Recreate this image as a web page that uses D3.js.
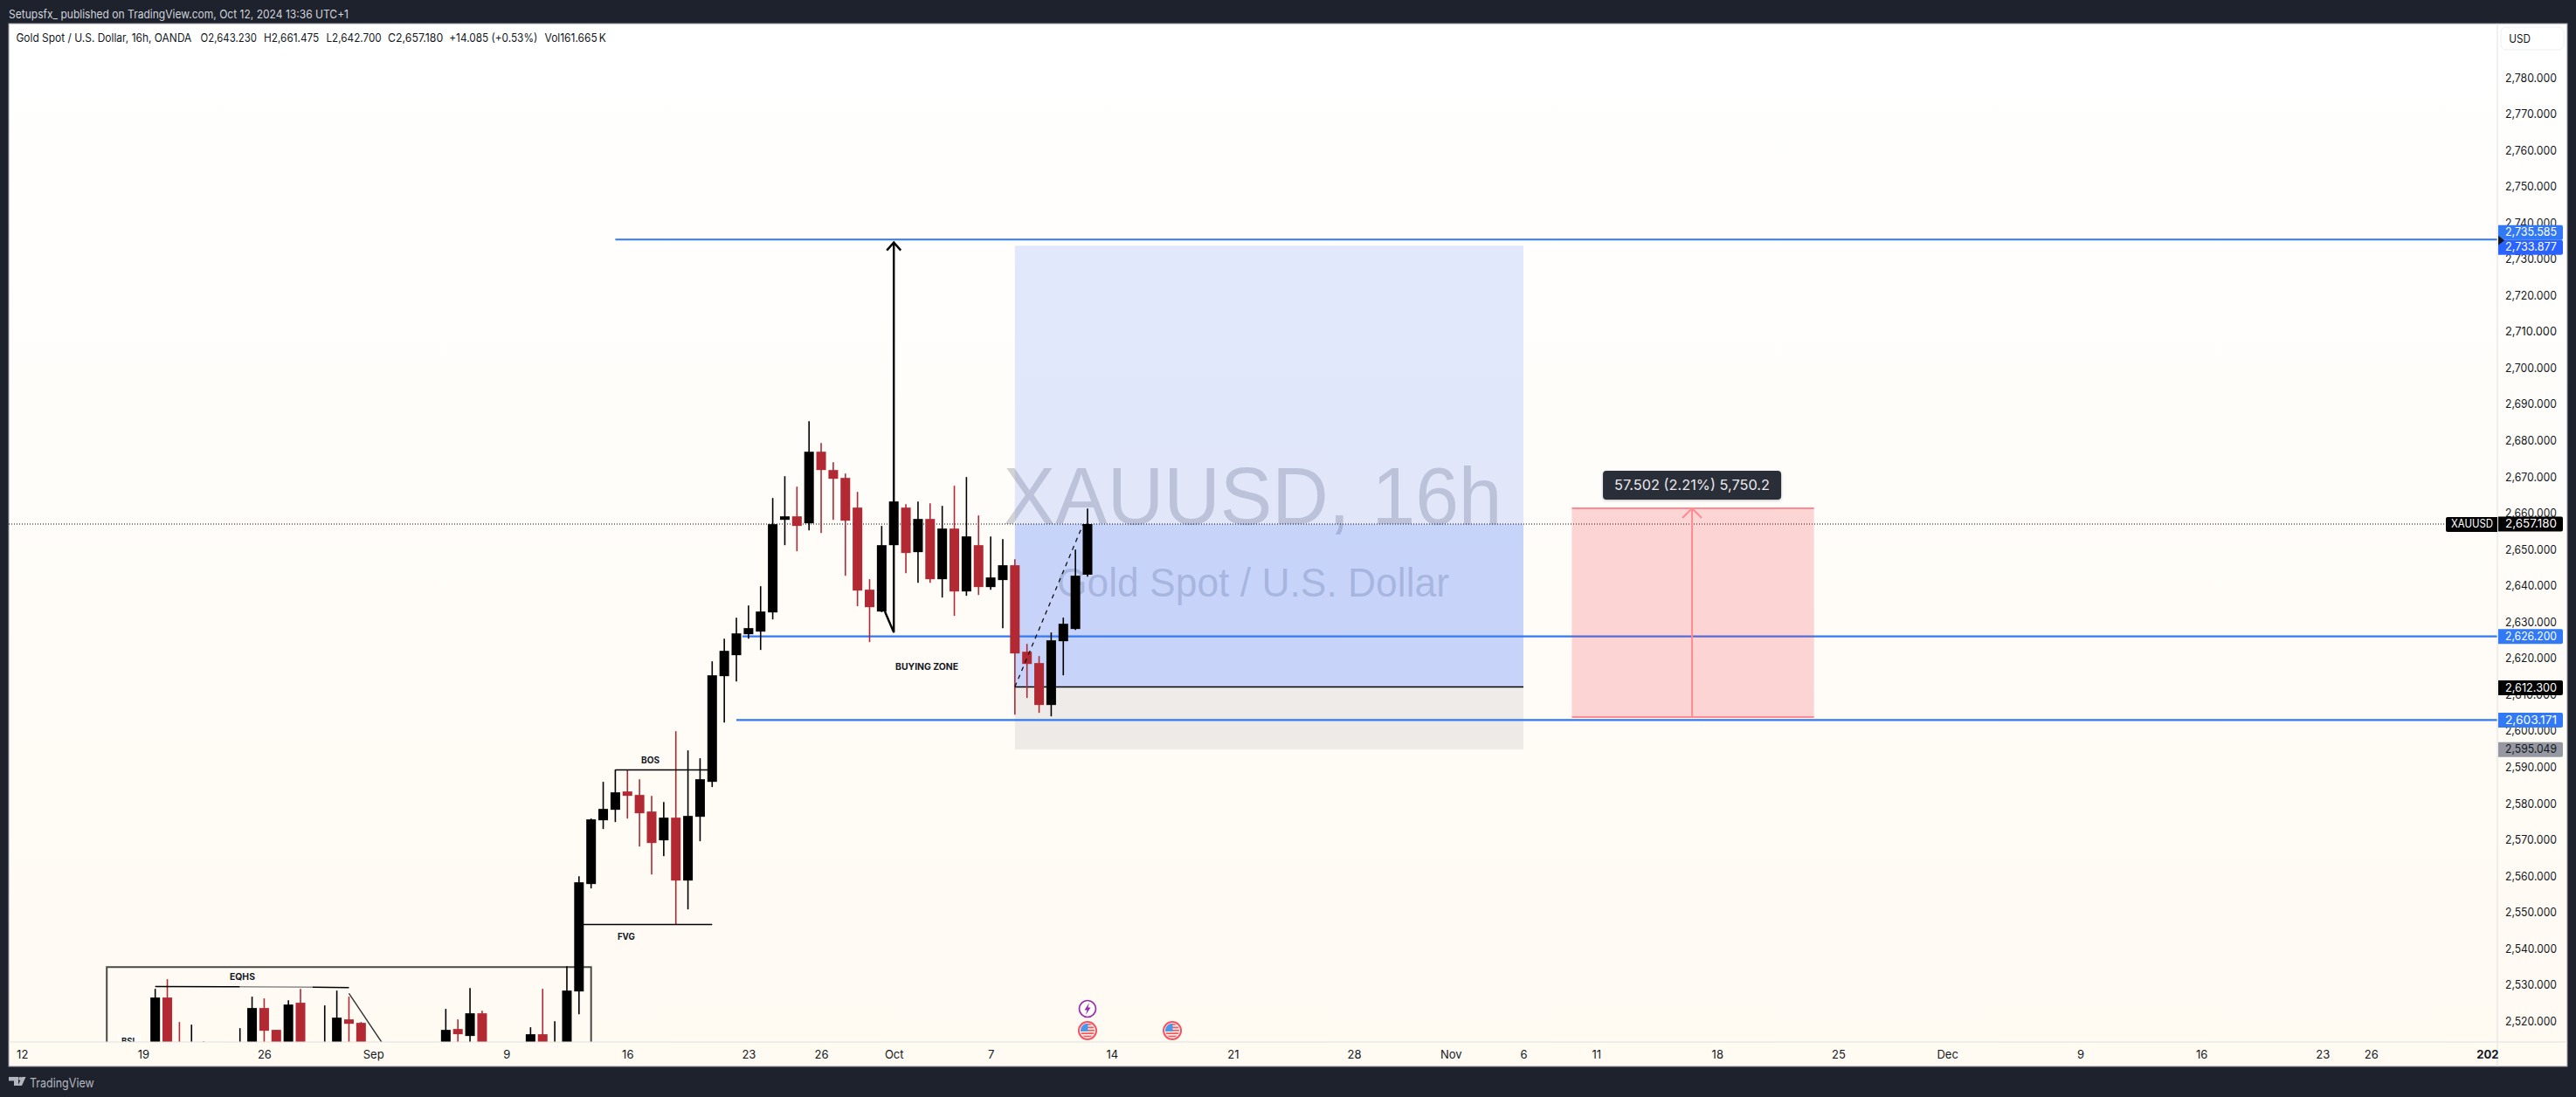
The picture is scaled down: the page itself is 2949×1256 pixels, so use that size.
<!DOCTYPE html>
<html><head><meta charset="utf-8">
<script src="https://cdn.jsdelivr.net/npm/d3@7/dist/d3.min.js"></script>
<style>html,body{margin:0;padding:0;background:#1e222d;overflow:hidden}svg{display:block}text{font-family:Inter,"Noto Sans",sans-serif}</style>
</head><body><svg id="c" width="2949" height="1256"></svg>
<script>
// ---- data (prices) ----
const barIndex=[-46,-45,-44,-43,-42,-39,-38,-37,-36,-35,-34,-32,-31,-30,-29,-22,-21,-20,-19,-15,-14,-13,-12,-11,-10,-9,-8,-7,-6,-5,-4,-3,-2,-1,0,1,2,3,4,5,6,7,8,9,10,11,12,13,14,15,16,17,18,19,20,21,22,23,24,25,26,27,28,29,30,31];
const barOpen=[2508,2526.70,2512,2503,2512,2504,2509,2523.81,2517.79,2510,2525.26,2506,2508,2520.68,2519.72,2508,2518.03,2516.11,2522.36,2508,2516.59,2505,2508,2528.38,2557.98,2575.55,2578.44,2583.49,2582.53,2577.96,2570.02,2576.27,2558.94,2576.51,2586.14,2615.26,2621.04,2626.81,2627.54,2632.83,2658.34,2659.30,2657.38,2677.11,2672.06,2669.89,2661.71,2639.09,2633.07,2651.36,2661.71,2649.44,2658.58,2641.98,2655.93,2638.61,2651.36,2639.81,2641.74,2645.83,2622.00,2618.87,2607.32,2624.89,2628.26,2643.23];
const barHigh=[2529.10,2531.75,2519.96,2519.23,2514.66,2518.27,2526.94,2526.46,2517.79,2525.97,2529.10,2524.53,2528.62,2526.94,2519.96,2523.57,2520.68,2529.34,2523.08,2518.51,2529.10,2520.20,2535.36,2560.15,2576.03,2586.14,2589.51,2589.51,2586.86,2582.29,2580.61,2600.10,2594.80,2592.64,2619.35,2625.61,2631.39,2634.76,2640.05,2664.36,2670.37,2667.49,2685.54,2679.52,2674.23,2671.10,2666.04,2641.98,2656.66,2663.40,2662.67,2663.40,2662.91,2662.19,2667.73,2670.13,2659.55,2653.77,2653.05,2647.51,2624.17,2620.80,2627.29,2631.39,2650.16,2661.475];
const barLow=[2503,2503,2501,2498,2500,2500,2505,2508,2505,2506,2505,2502,2504,2506,2504,2505,2508,2508,2506,2504,2503,2500,2504,2522.12,2556.78,2573.14,2575.07,2576.03,2568.33,2560.63,2565.68,2546.91,2551.00,2569.77,2584.70,2602.51,2613.82,2625.61,2622.48,2630.90,2651.36,2649.68,2655.45,2654.73,2658.34,2642.94,2634.52,2624.65,2632.90,2640,2643.66,2641.01,2641.01,2636.92,2631.87,2637.40,2637.64,2639.09,2628.50,2604.67,2609.24,2605.15,2604.19,2615.50,2628.02,2642.70];
const barClose=[2526.70,2508,2506,2512,2505,2512,2523.81,2517.55,2508,2524.77,2510,2512,2521.16,2519.47,2508,2517.79,2516.59,2522.36,2510,2516.59,2506,2512,2528.62,2558.46,2575.79,2578.68,2583.25,2582.29,2577.48,2569.29,2576.27,2558.94,2576.75,2586.86,2615.50,2622.24,2627.05,2628.50,2633.07,2657.14,2659.30,2656.66,2677.11,2672.06,2669.65,2658.10,2638.85,2634.27,2651.36,2663.40,2649.20,2658.58,2641.98,2655.93,2638.61,2653.77,2639.81,2642.46,2645.83,2621.52,2618.63,2607.32,2625.13,2629.70,2642.94,2657.18];
const priceTicks=[2780,2770,2760,2750,2740,2730,2720,2710,2700,2690,2680,2670,2660,2650,2640,2630,2620,2610,2600,2590,2580,2570,2560,2550,2540,2530,2520];
const timeTickBars=[-57,-47,-37,-28,-17,-7,3,9,15,23,33,43,53,61,67,73,83,93,102,113,123,133,137,146.6];
const timeTickLabels=["12","19","26","Sep","9","16","23","26","Oct","7","14","21","28","Nov","6","11","18","25","Dec","9","16","23","26","202"];
const lastPrice=2657.18, lastLabel="XAUUSD";
const targetPrice=2735.585, targetTop=2733.877, entryPrice=2612.3, stopPrice=2595.049;
const zoneHigh=2626.2, zoneLow=2603.171;
const rangeLow=2604.0, rangeHigh=2661.5;
const headerText="Setupsfx_ published on TradingView.com, Oct 12, 2024 13:36 UTC+1";
const legendParts=["Gold Spot / U.S. Dollar, 16h, OANDA","O2,643.230","H2,661.475","L2,642.700","C2,657.180","+14.085 (+0.53%)","Vol161.665\u2009K"];
const rangeText="57.502 (2.21%) 5,750.2";
const priceTagValues=[targetPrice,targetTop,lastPrice,zoneHigh,entryPrice,zoneLow,stopPrice];

// ---- layout ----
const svg=d3.select("#c");
const P={l:10,t:27,r:2859,b:1193,R:2939,B:1221};
const x=d3.scaleLinear().domain([0,31]).range([815.3,1245]);
const y=d3.scaleLinear().domain([2780,lastPrice]).range([89.7,600]);
const fit=(sel,w)=>sel.attr("textLength",w).attr("lengthAdjust","spacingAndGlyphs");
const defs=svg.append("defs");
const g=defs.append("linearGradient").attr("id","bg").attr("x1",0).attr("x2",0).attr("y1",0).attr("y2",1);
g.append("stop").attr("offset",0).attr("stop-color","#ffffff");
g.append("stop").attr("offset",1).attr("stop-color","#fffaf2");
defs.append("clipPath").attr("id","pane").append("rect").attr("x",P.l).attr("y",P.t).attr("width",P.r-P.l).attr("height",P.b-P.t);
const f=defs.append("filter").attr("id","sh").attr("x","-10%").attr("y","-20%").attr("width","120%").attr("height","150%");
f.append("feDropShadow").attr("dx",0).attr("dy",1).attr("stdDeviation",1.5).attr("flood-color","#000").attr("flood-opacity",.25);

svg.append("rect").attr("width",2949).attr("height",1256).attr("fill","#1e222d");
svg.append("rect").attr("x",P.l).attr("y",P.t).attr("width",P.R-P.l).attr("height",P.B-P.t).attr("fill","url(#bg)").attr("stroke","#9598a1").attr("stroke-width",1);

const pane=svg.append("g").attr("clip-path","url(#pane)");

// watermark
const wm="rgba(120,123,134,.33)";
fit(pane.append("text").attr("x",1434).attr("y",600).attr("text-anchor","middle").attr("font-size",93).style("font-family","Liberation Sans").attr("fill",wm).text("XAUUSD, 16h"),571);
fit(pane.append("text").attr("x",1434.5).attr("y",683).attr("text-anchor","middle").attr("font-size",46).style("font-family","Liberation Sans").attr("fill",wm).text("Gold Spot / U.S. Dollar"),449);

// position tool
const bx0=x(25),bx1=x(67);
const blue="rgba(41,98,255,.14)";
pane.append("rect").attr("x",bx0).attr("width",bx1-bx0).attr("y",y(targetTop)).attr("height",y(entryPrice)-y(targetTop)).attr("fill",blue);
pane.append("rect").attr("x",bx0).attr("width",bx1-bx0).attr("y",y(lastPrice)).attr("height",y(entryPrice)-y(lastPrice)).attr("fill",blue);
pane.append("rect").attr("x",bx0).attr("width",bx1-bx0).attr("y",y(entryPrice)).attr("height",y(stopPrice)-y(entryPrice)).attr("fill","rgba(120,123,134,.13)");

// horizontal blue lines
const lineBlue="#3179f5";
[[-8,targetPrice],[2.5,zoneHigh],[2,zoneLow]].forEach(([n,p])=>{
 pane.append("line").attr("x1",x(n)).attr("x2",P.r).attr("y1",y(p)).attr("y2",y(p)).attr("stroke",lineBlue).attr("stroke-width",2.2);
});
pane.append("line").attr("x1",bx0).attr("x2",bx1).attr("y1",y(entryPrice)).attr("y2",y(entryPrice)).attr("stroke","#000").attr("stroke-width",1.4);

// last price dotted
pane.append("line").attr("x1",P.l).attr("x2",2800).attr("y1",y(lastPrice)).attr("y2",y(lastPrice)).attr("stroke","#000").attr("stroke-width",1).attr("stroke-dasharray","1 2");

// EQHS box etc (under candles)
pane.append("path").attr("d",`M${x(-50)},1300V${y(2535.1)}H${x(-10)}V1300`).attr("fill","none").attr("stroke","#4a4845").attr("stroke-width",2);

// candles
const bars=barIndex.map((n,i)=>({n,o:barOpen[i],h:barHigh[i],l:barLow[i],c:barClose[i]}));
const col=d=>d.c>=d.o?"#000000":"#b22833";
const cg=pane.append("g");
cg.selectAll("line").data(bars).join("line").attr("x1",d=>x(d.n)).attr("x2",d=>x(d.n)).attr("y1",d=>y(d.h)).attr("y2",d=>y(d.l)).attr("stroke",col).attr("stroke-width",1.6);
cg.selectAll("rect").data(bars).join("rect").attr("x",d=>x(d.n)-5.5).attr("width",11).attr("y",d=>y(Math.max(d.o,d.c))).attr("height",d=>Math.max(1,Math.abs(y(d.o)-y(d.c)))).attr("fill",col);

// trend drawings
const seg=(n1,p1,n2,p2,c,w,dash)=>pane.append("line").attr("x1",x(n1)).attr("x2",x(n2)).attr("y1",y(p1)).attr("y2",y(p2)).attr("stroke",c).attr("stroke-width",w).attr("stroke-dasharray",dash||null);
seg(-8,2589.43,0,2589.43,"#000",1.4);
seg(-11,2546.84,0,2546.84,"#000",1.4);
seg(-46,2529.75,-39,2529.65,"#000",1.5);
seg(-39,2529.65,-33,2529.55,"#8a8a8a",1.5);
seg(-33,2529.55,-30,2529.41,"#000",1.5);
seg(-30,2527.83,-27.3,2514.4,"#333",1.4);
seg(25,entryPrice,30.64,lastPrice,"#111",1.3,"5 5");
// black arrow
pane.append("path").attr("d",`M${x(14.26)},${y(2633.1)}L${x(15)},${y(2627.3)}L${x(15)},${y(2735)}M${x(15)-8},${y(2735)+10}L${x(15)},${y(2735)+1}L${x(15)+8},${y(2735)+10}`).attr("fill","none").attr("stroke","#000").attr("stroke-width",2.4);

// pink range
const rx0=x(71),rx1=x(91),rc=x(81)-1;
const pink="#ff8a92";
pane.append("rect").attr("x",rx0).attr("width",rx1-rx0).attr("y",y(rangeHigh)).attr("height",y(rangeLow)-y(rangeHigh)).attr("fill","rgba(242,54,69,.2)");
pane.append("path").attr("d",`M${rx0},${y(rangeHigh)}H${rx1}M${rx0},${y(rangeLow)}H${rx1}M${rc},${y(rangeLow)}V${y(rangeHigh)}M${rc-11},${y(rangeHigh)+11}L${rc},${y(rangeHigh)}L${rc+11},${y(rangeHigh)+11}`).attr("fill","none").attr("stroke",pink).attr("stroke-width",2);
pane.append("rect").attr("x",rc-102).attr("width",204).attr("y",539).attr("height",33).attr("rx",4).attr("fill","#2a2e39").attr("filter","url(#sh)");
fit(pane.append("text").attr("x",rc).attr("y",555.5).attr("dy",".36em").attr("text-anchor","middle").attr("font-size",16.5).attr("fill","#e8e9ec").text(rangeText),178);

// small annotations
const note=(t,n,p,w)=>fit(pane.append("text").attr("x",x(n)).attr("y",y(p)).attr("dy",".36em").attr("text-anchor","middle").attr("font-size",10).attr("font-weight",700).attr("fill","#131722").text(t),w);
note("BUYING ZONE",17.73,2617.95,72);
note("BOS",-5.1,2592.2,21);
note("FVG",-7.1,2543.6,20);
note("EQHS",-38.8,2532.5,29);
pane.append("rect").attr("x",x(-48.14)-13).attr("width",26).attr("y",1185).attr("height",9).attr("fill","#fffefc");
note("BSL",-48.14,2514.7,18);

// event icons
function flagIcon(n,cy){
 const cx=x(n),id="f"+n;
 defs.append("clipPath").attr("id",id).append("circle").attr("cx",cx).attr("cy",cy).attr("r",8);
 const gg=svg.append("g");
 gg.append("circle").attr("cx",cx).attr("cy",cy).attr("r",10).attr("fill","#fff").attr("stroke","#f7525f").attr("stroke-width",2);
 const c=gg.append("g").attr("clip-path",`url(#${id})`);
 d3.range(5).forEach(i=>c.append("rect").attr("x",cx-9).attr("width",18).attr("y",cy-8+i*3.4).attr("height",1.9).attr("fill","#ef5350").attr("opacity",.95));
 c.append("rect").attr("x",cx-9).attr("width",9.5).attr("y",cy-9).attr("height",10).attr("fill","#4a98ee");
}
const bolt=svg.append("g");
const bx=x(31);
bolt.append("circle").attr("cx",bx).attr("cy",1155).attr("r",9.5).attr("fill","#fffefb").attr("stroke","#9c27b0").attr("stroke-width",1.7);
bolt.append("path").attr("d",`M${bx+2},1148L${bx-3.5},1156.5H${bx-.5}L${bx-2},1162L${bx+3.5},1153.5H${bx+.5}Z`).attr("fill","#9c27b0");
flagIcon(31,1180);flagIcon(38,1180);

// axes rules
svg.append("line").attr("x1",P.r).attr("x2",P.r).attr("y1",P.t).attr("y2",P.B).attr("stroke","#e0e0dc");
svg.append("line").attr("x1",P.l).attr("x2",P.R).attr("y1",P.b).attr("y2",P.b).attr("stroke","#e0e0dc");

// price axis
const yAxis=d3.axisRight(y).tickValues(priceTicks).tickFormat(d3.format(",.3f")).tickSize(0).tickPadding(0);
const ya=svg.append("g").attr("transform",`translate(2868,-1)`).call(yAxis);
ya.select(".domain").remove();
fit(ya.selectAll("text").attr("font-size",13.5).attr("fill","#131722").style("font-family","Inter"),59);

// time axis
const labelOf=new Map(timeTickBars.map((b,i)=>[b,timeTickLabels[i]]));
const xAxis=d3.axisBottom(x).tickValues(timeTickBars).tickFormat(b=>labelOf.get(b)).tickSize(0).tickPadding(0);
const xa=svg.append("g").attr("transform",`translate(0,${P.b+9.3})`).call(xAxis);
xa.select(".domain").remove();
xa.selectAll("text").attr("font-size",13).attr("fill","#131722").attr("font-weight",b=>b===146.6?700:400).style("font-family","Inter");

// USD button
svg.append("rect").attr("x",2863).attr("y",31).attr("width",72).attr("height",26).attr("rx",6).attr("fill","none").attr("stroke","#eef0f3").attr("stroke-width",1);
fit(svg.append("text").attr("x",2872.3).attr("y",44).attr("dy",".36em").attr("font-size",13.5).attr("fill","#131722").text("USD"),24.7);

// price tags
const tagFmt=d3.format(",.3f");
const tagStyle=[["#3179f5","#fff"],["#2962ff","#fff"],["#000","#fff"],["#3179f5","#fff"],["#000","#fff"],["#3179f5","#fff"],["#9598a1","#131722"]];
const tagCentre=[y(targetTop)+1.8-17,y(targetTop)+1.8,y(lastPrice),y(zoneHigh),y(entryPrice)+1,y(zoneLow),y(stopPrice)];
priceTagValues.forEach((v,i)=>{
 const c=tagCentre[i];
 svg.append("path").attr("d",`M2860,${c-8.5}H2932a2,2 0 0 1 2,2V${c+6.5}a2,2 0 0 1 -2,2H2860Z`).attr("fill",tagStyle[i][0]);
 fit(svg.append("text").attr("x",2868).attr("y",c).attr("dy",".32em").attr("font-size",13.5).attr("fill",tagStyle[i][1]).text(tagFmt(v)),59);
});
// last-price symbol tag
svg.append("path").attr("d",`M2859,${y(lastPrice)-8}H2802a2,2 0 0 0 -2,2V${y(lastPrice)+7}a2,2 0 0 0 2,2H2859Z`).attr("fill","#000");
fit(svg.append("text").attr("x",2806).attr("y",y(lastPrice)).attr("dy",".34em").attr("font-size",13).attr("fill","#fff").text(lastLabel),48);
// line marker
svg.append("path").attr("d",`M2860,${y(targetPrice)-4.5}L2867,${y(targetPrice)+1}L2860,${y(targetPrice)+6.5}Z`).attr("fill","#131722");

// header + legend
fit(svg.append("text").attr("x",10).attr("y",16).attr("dy",".36em").attr("font-size",13).attr("fill","#d1d4dc").text(headerText),389);
const legendX=[18.4,229.6,302,373.5,444,514.3,623.5], legendW=[201,64.3,63.3,63.2,63.3,101,70.4];
legendParts.forEach((t,i)=>fit(svg.append("text").attr("x",legendX[i]).attr("y",43.5).attr("dy",".36em").attr("font-size",13).attr("fill","#131722").text(t),legendW[i]));

// footer logo
svg.append("path").attr("d","M10,1233H21V1243H16V1237.5H10Z M29.5,1233L25,1243H20.5L25,1233Z").attr("fill","#b2b5be");
svg.append("circle").attr("cx",23.2).attr("cy",1235).attr("r",2).attr("fill","#b2b5be");
fit(svg.append("text").attr("x",34).attr("y",1239.5).attr("dy",".36em").attr("font-size",14.5).attr("fill","#b2b5be").text("TradingView"),73.7);
</script></body></html>
